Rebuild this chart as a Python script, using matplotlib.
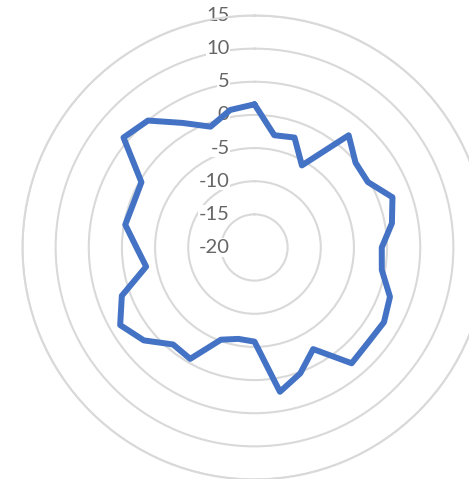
import numpy as np
import matplotlib
matplotlib.use("Agg")
import matplotlib.pyplot as plt
from matplotlib.transforms import offset_copy

plt.rcParams['font.family'] = ['Lato', 'DejaVu Sans']

categories = list(range(1, 37))
values = [1.6, -2.8, -2.35, -5.7, 2.1, -0.1, -0.25, 2.15, 1.05, -0.8,
          -0.5, 1.75, 2.55, 2.35, 2.8, -2.3, 0.2, 2.1, -5.8, -6.0,
          -5.2, -0.6, -0.9, 1.8, 3.4, 1.3, -3.4, -2.2, -0.2, -0.56,
          -0.3, 5.8, 5.0, 1.7, -0.6, 1.07]
r_ticks = [-20, -15, -10, -5, 0, 5, 10, 15]
r_labels = [str(t) for t in r_ticks]

fig = plt.figure(figsize=(4.69, 4.79), dpi=100)
ax = fig.add_axes([22.5 / 469, -0.5 / 479, 464 / 469, 464 / 479], projection='polar')
ax.set_theta_zero_location('N')
ax.set_theta_direction(-1)
ax.set_axisbelow(True)

n = len(categories)
theta = np.linspace(0, 2 * np.pi, n, endpoint=False)
th = np.append(theta, theta[0])
vals = np.append(values, values[0])

ax.set_ylim(r_ticks[0], r_ticks[-1])
ax.set_yticks(r_ticks[1:])
ax.set_yticklabels([])
ax.yaxis.grid(True, color='#D9D9D9', linewidth=1.5)
ax.xaxis.grid(False)
ax.set_xticks([])
ax.spines['polar'].set_color('#D9D9D9')
ax.spines['polar'].set_linewidth(1.5)

ax.plot(th, vals, color='#4472C4', linewidth=4.3, solid_joinstyle='round',
        solid_capstyle='round', zorder=3)

tr = offset_copy(ax.transData, fig=fig, x=-25, y=0, units='dots')
for t, lab in zip(r_ticks, r_labels):
    ax.text(0, t, lab, transform=tr, ha='right', va='center', fontsize=14.5,
            color='#666666', zorder=2.5,
            bbox=dict(facecolor='white', edgecolor='none', pad=0.5))

fig.savefig('out.png', dpi=100)
